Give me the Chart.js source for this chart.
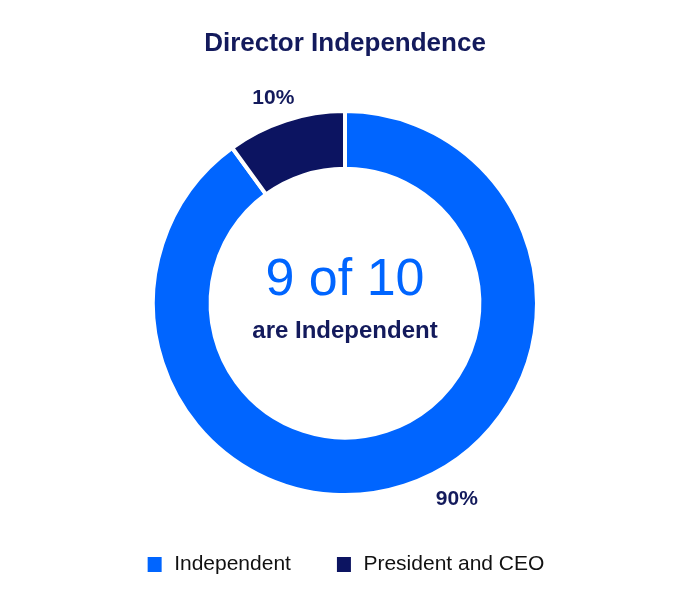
<!DOCTYPE html>
<html>
<head>
<meta charset="utf-8">
<script src="https://cdn.jsdelivr.net/npm/chart.js@4.4.1/dist/chart.umd.min.js"></script>
<style>
  html, body { margin: 0; padding: 0; background: #ffffff; }
  #wrap { width: 690px; height: 614px; }
</style>
</head>
<body>
<div id="wrap"><canvas id="c" width="690" height="614"></canvas></div>
<script>
const categories = ["Independent", "President and CEO"];
const values = [90, 10];
const valueLabels = ["90%", "10%"];
const centerBig = "9 of 10";
const centerSmall = "are Independent";
const chartTitle = "Director Independence";

const BLUE = "#0065FF";
const NAVY = "#0C1461";
const TEXT_NAVY = "#131A5C";
const FONT = "'Liberation Sans', Arial, Helvetica, sans-serif";

const labelPlugin = {
  id: "arcLabels",
  afterDatasetsDraw(chart, args, opts) {
    const ctx = chart.ctx;
    const meta = chart.getDatasetMeta(0);
    ctx.save();
    ctx.font = "bold 21px " + FONT;
    ctx.fillStyle = TEXT_NAVY;
    ctx.textAlign = "center";
    ctx.textBaseline = "middle";
    meta.data.forEach((arc, i) => {
      const p = arc.getProps(["x", "y", "startAngle", "endAngle", "outerRadius"], true);
      const a = p.startAngle + opts.fraction * (p.endAngle - p.startAngle);
      const r = p.outerRadius + opts.gaps[i];
      ctx.fillText(valueLabels[i], p.x + Math.cos(a) * r, p.y + Math.sin(a) * r);
    });
    // centre text
    const ca = chart.chartArea;
    const cx = (ca.left + ca.right) / 2;
    const cy = (ca.top + ca.bottom) / 2;
    ctx.font = "52px " + FONT;
    ctx.fillStyle = BLUE;
    ctx.fillText(centerBig, cx, cy - 22);
    ctx.font = "bold 24px " + FONT;
    ctx.fillStyle = TEXT_NAVY;
    ctx.fillText(centerSmall, cx, cy + 28);
    ctx.restore();
  }
};

new Chart(document.getElementById("c"), {
  type: "doughnut",
  data: {
    labels: categories,
    datasets: [{
      data: values,
      backgroundColor: [BLUE, NAVY],
      borderColor: "#ffffff",
      borderWidth: 4,
      hoverOffset: 0
    }]
  },
  options: {
    responsive: false,
    animation: false,
    events: [],
    radius: 192,
    cutout: "70%",
    layout: { padding: { top: 0, bottom: 29, left: 0, right: 0 } },
    plugins: {
      title: {
        display: true,
        text: chartTitle,
        color: TEXT_NAVY,
        font: { family: FONT, size: 26, weight: "bold", lineHeight: 1.2 },
        padding: { top: 28, bottom: 37 }
      },
      legend: {
        position: "bottom",
        labels: {
          color: "#111111",
          font: { family: FONT, size: 21 },
          boxWidth: 18,
          boxHeight: 19,
          padding: 44
        }
      },
      tooltip: { enabled: false },
      arcLabels: { fraction: 0.464, gaps: [34, 25] }
    }
  },
  plugins: [labelPlugin]
});
</script>
</body>
</html>
